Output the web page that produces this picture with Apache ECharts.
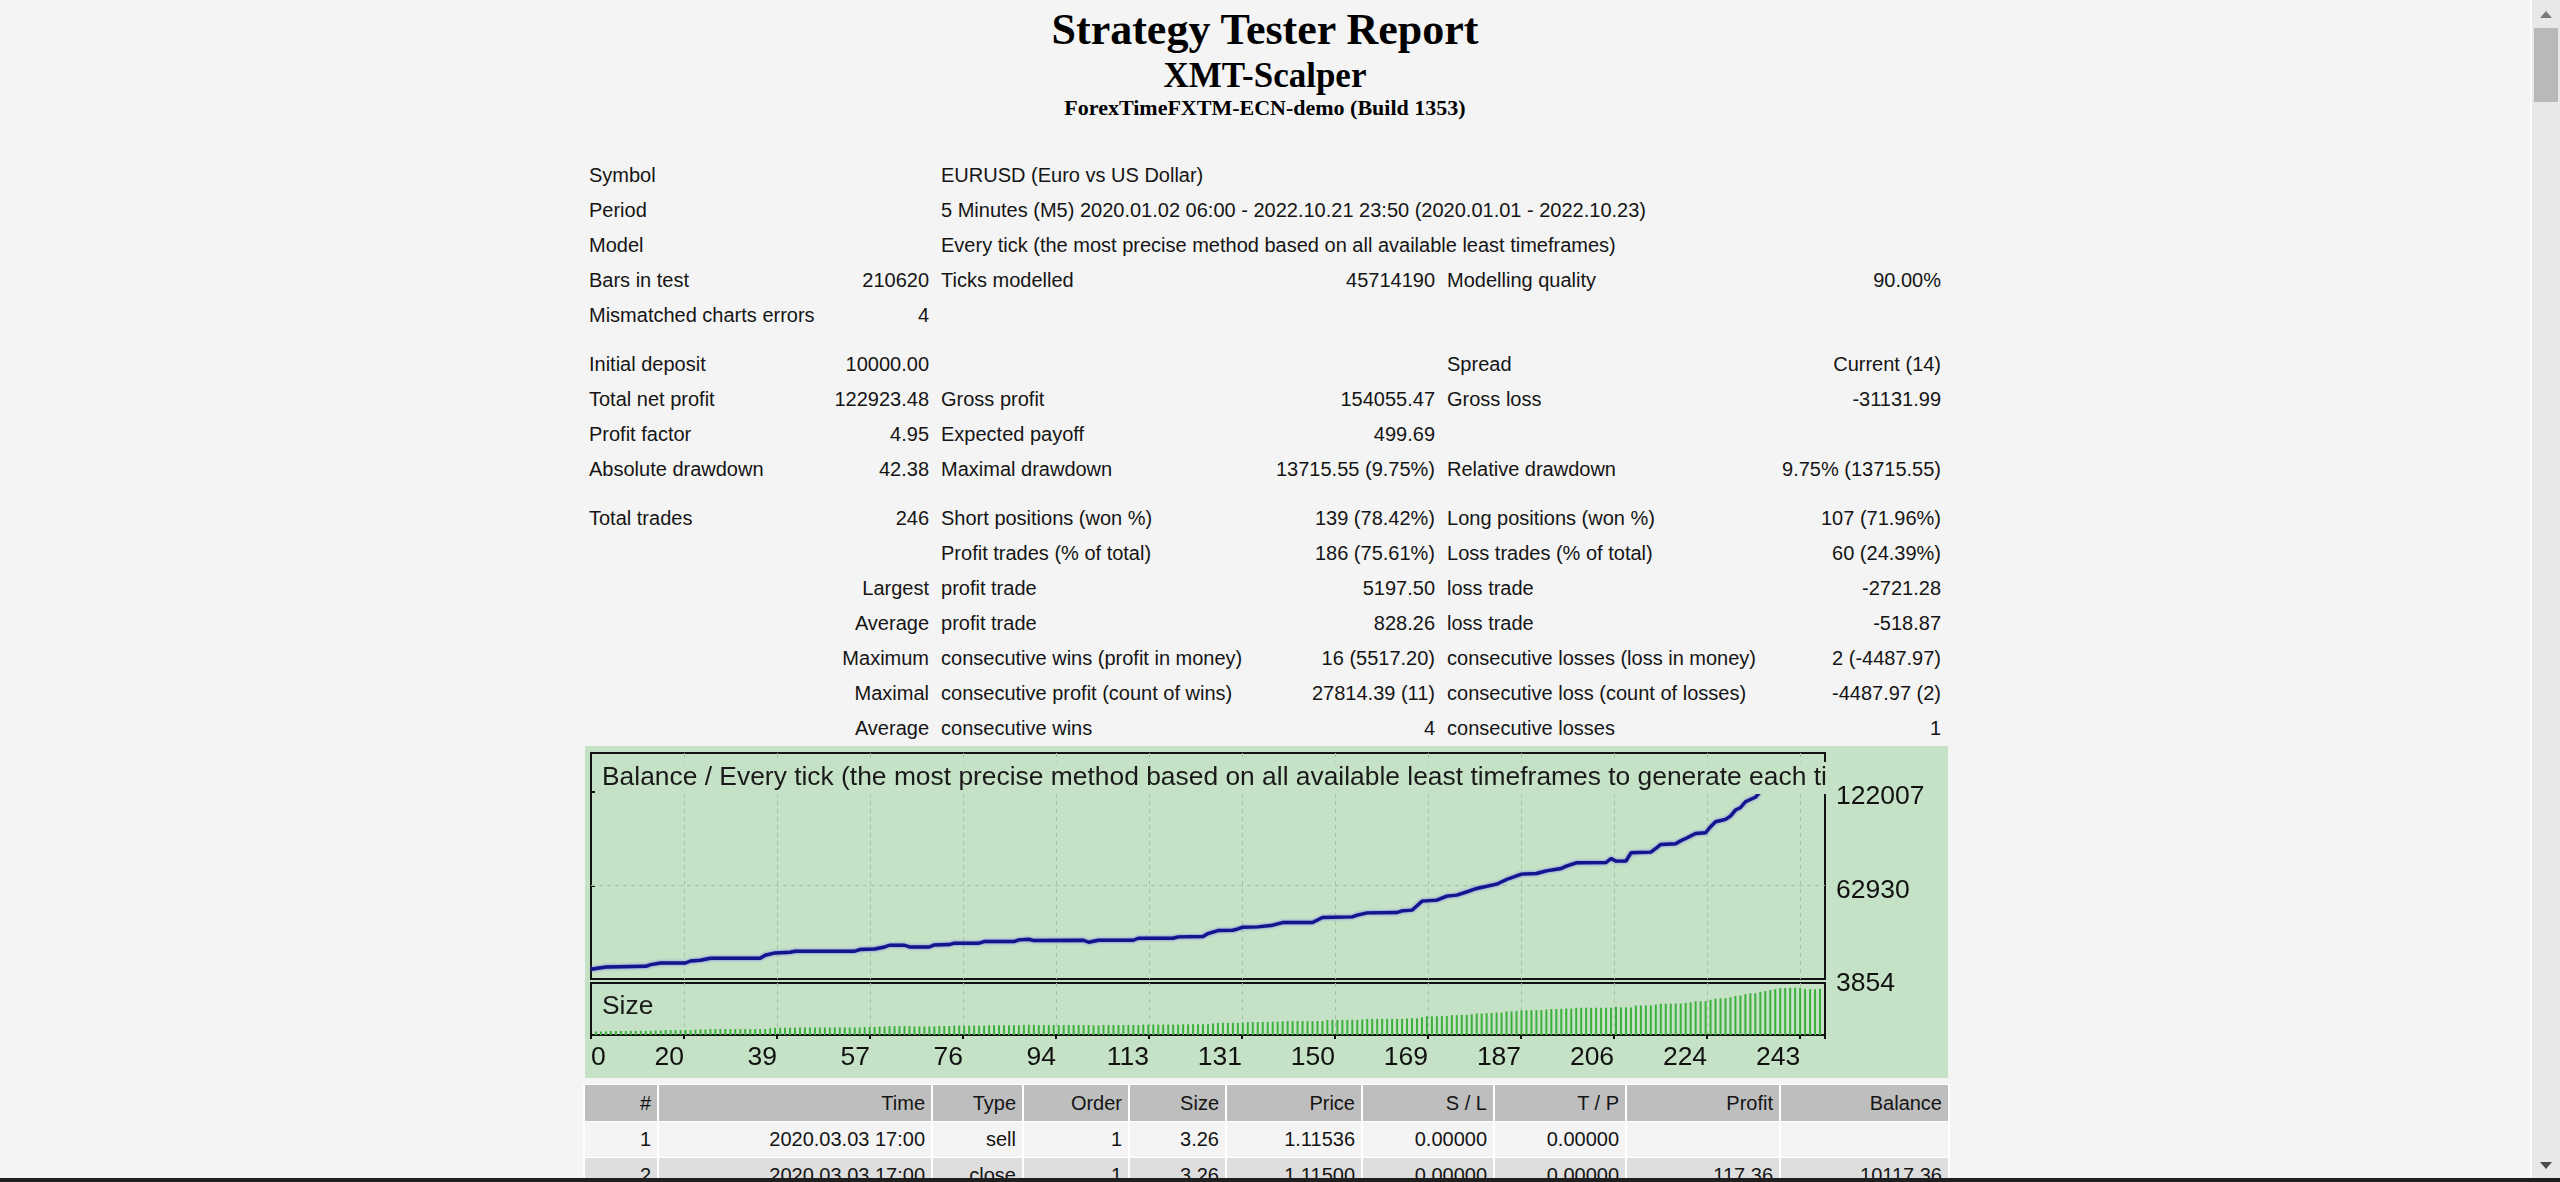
<!DOCTYPE html>
<html>
<head>
<meta charset="utf-8">
<title>Strategy Tester: XMT-Scalper</title>
<script src="https://cdn.jsdelivr.net/npm/echarts@6.0.0/dist/echarts.min.js"></script>
<style>
  html, body { margin:0; padding:0; width:2560px; height:1182px; overflow:hidden; background:#f4f4f4; }
  body { position:relative; font-family:"Liberation Sans", Arial, sans-serif; color:#151515; }
  .hd { position:absolute; left:0; width:2530px; text-align:center; font-family:"Liberation Serif", "Times New Roman", serif; font-weight:bold; color:#000; white-space:nowrap; }
  #stats { position:absolute; left:583px; top:158px; width:1364px; border-collapse:collapse; table-layout:fixed; font-size:20px; }
  #stats td { height:35px; line-height:35px; padding:0 6px; white-space:nowrap; overflow:visible; }
  #stats tr.gap td { height:14px; line-height:14px; }
  #stats td.r { text-align:right; }
  #chart { position:absolute; left:585px; top:746px; width:1363px; height:332px; }
  #deals { position:absolute; left:583px; top:1084px; border-collapse:separate; border-spacing:2px 1px; background:#fff; table-layout:fixed; font-size:20px; }
  #deals td { height:35px; line-height:35px; padding:0 6px; text-align:right; white-space:nowrap; }
  #deals tr.head td { background:#bebebe; height:34px; line-height:36px; }
  #deals tr.odd td { background:#f4f4f4; }
  #deals tr.even td { background:#dedede; }
  #sbar { position:fixed; left:2530px; top:0; width:30px; height:1182px; background:#e8e8e8; border-left:2px solid #fbfbfb; box-sizing:border-box; }
  #thumb { position:absolute; left:2px; top:28px; width:24px; height:74px; background:#b9b9b9; }
  .arr { position:absolute; left:8px; width:0; height:0; border-left:6px solid transparent; border-right:6px solid transparent; }
  #up { top:11px; border-bottom:7px solid #7a7a7a; }
  #down { top:1162px; border-top:7px solid #4a4a4a; }
  #edge { position:fixed; left:0; top:1178px; width:2560px; height:4px; background:#1e1e1e; }
</style>
</head>
<body>

<div class="hd" style="top:8px;font-size:44px;line-height:44px;">Strategy Tester Report</div>
<div class="hd" style="top:58px;font-size:35px;line-height:35px;">XMT-Scalper</div>
<div class="hd" style="top:97px;font-size:22px;line-height:22px;">ForexTimeFXTM-ECN-demo (Build 1353)</div>

<table id="stats">
  <colgroup><col style="width:242px"><col style="width:110px"><col style="width:325px"><col style="width:181px"><col style="width:325px"><col style="width:181px"></colgroup>
  <tr><td colspan="2">Symbol</td><td colspan="4">EURUSD (Euro vs US Dollar)</td></tr>
  <tr><td colspan="2">Period</td><td colspan="4">5 Minutes (M5) 2020.01.02 06:00 - 2022.10.21 23:50 (2020.01.01 - 2022.10.23)</td></tr>
  <tr><td colspan="2">Model</td><td colspan="4">Every tick (the most precise method based on all available least timeframes)</td></tr>
  <tr><td>Bars in test</td><td class="r">210620</td><td>Ticks modelled</td><td class="r">45714190</td><td>Modelling quality</td><td class="r">90.00%</td></tr>
  <tr><td>Mismatched charts errors</td><td class="r">4</td><td colspan="4"></td></tr>
  <tr class="gap"><td colspan="6"></td></tr>
  <tr><td>Initial deposit</td><td class="r">10000.00</td><td></td><td></td><td>Spread</td><td class="r">Current (14)</td></tr>
  <tr><td>Total net profit</td><td class="r">122923.48</td><td>Gross profit</td><td class="r">154055.47</td><td>Gross loss</td><td class="r">-31131.99</td></tr>
  <tr><td>Profit factor</td><td class="r">4.95</td><td>Expected payoff</td><td class="r">499.69</td><td></td><td></td></tr>
  <tr><td>Absolute drawdown</td><td class="r">42.38</td><td>Maximal drawdown</td><td class="r">13715.55 (9.75%)</td><td>Relative drawdown</td><td class="r">9.75% (13715.55)</td></tr>
  <tr class="gap"><td colspan="6"></td></tr>
  <tr><td>Total trades</td><td class="r">246</td><td>Short positions (won %)</td><td class="r">139 (78.42%)</td><td>Long positions (won %)</td><td class="r">107 (71.96%)</td></tr>
  <tr><td colspan="2" class="r"></td><td>Profit trades (% of total)</td><td class="r">186 (75.61%)</td><td>Loss trades (% of total)</td><td class="r">60 (24.39%)</td></tr>
  <tr><td colspan="2" class="r">Largest</td><td>profit trade</td><td class="r">5197.50</td><td>loss trade</td><td class="r">-2721.28</td></tr>
  <tr><td colspan="2" class="r">Average</td><td>profit trade</td><td class="r">828.26</td><td>loss trade</td><td class="r">-518.87</td></tr>
  <tr><td colspan="2" class="r">Maximum</td><td>consecutive wins (profit in money)</td><td class="r">16 (5517.20)</td><td>consecutive losses (loss in money)</td><td class="r">2 (-4487.97)</td></tr>
  <tr><td colspan="2" class="r">Maximal</td><td>consecutive profit (count of wins)</td><td class="r">27814.39 (11)</td><td>consecutive loss (count of losses)</td><td class="r">-4487.97 (2)</td></tr>
  <tr><td colspan="2" class="r">Average</td><td>consecutive wins</td><td class="r">4</td><td>consecutive losses</td><td class="r">1</td></tr>
</table>

<div id="chart"></div>

<table id="deals">
  <colgroup><col style="width:72px"><col style="width:272px"><col style="width:89px"><col style="width:104px"><col style="width:95px"><col style="width:134px"><col style="width:130px"><col style="width:130px"><col style="width:152px"><col style="width:167px"></colgroup>
  <tr class="head"><td>#</td><td>Time</td><td>Type</td><td>Order</td><td>Size</td><td>Price</td><td>S / L</td><td>T / P</td><td>Profit</td><td>Balance</td></tr>
  <tr class="odd"><td>1</td><td>2020.03.03 17:00</td><td>sell</td><td>1</td><td>3.26</td><td>1.11536</td><td>0.00000</td><td>0.00000</td><td></td><td></td></tr>
  <tr class="even"><td>2</td><td>2020.03.03 17:00</td><td>close</td><td>1</td><td>3.26</td><td>1.11500</td><td>0.00000</td><td>0.00000</td><td>117.36</td><td>10117.36</td></tr>
</table>

<div id="sbar"><div id="thumb"></div><div class="arr" id="up"></div><div class="arr" id="down"></div></div>
<div id="edge"></div>

<script>
// 余额曲线: 交易序号 / 余额 (从图上读出的拐点)
var balanceTrade = [0, 3, 11, 12, 14, 19, 20, 22, 24, 34, 35, 37, 40, 41, 53, 54, 57, 59, 60, 63,
  64, 68, 69, 72, 73, 78, 79, 85, 86, 88, 89, 99, 100, 102, 109, 110, 117, 118, 123, 124,
  126, 129, 130, 131, 134, 137, 139, 145, 147, 153, 154, 156, 162, 163, 165, 167, 170, 172, 174, 176,
  178, 182, 184, 187, 190, 192, 195, 196, 198, 204, 205, 206, 208, 209, 213, 214, 215, 218, 219, 220,
  222, 224, 225, 226, 228, 229, 230, 231, 232, 234, 235];
var balanceValue = [10000, 11430, 11870, 12940, 13950, 13950, 15220, 15660, 16920, 16920, 18810, 20270, 20710, 21340, 21340, 22410, 22790, 24050, 25130, 25130,
  24050, 24050, 25320, 25570, 26410, 26410, 27460, 27460, 28510, 28910, 28090, 28280, 27020, 28280, 28280, 29540, 29540, 30400, 30620, 32510,
  34400, 34590, 35430, 36490, 36700, 37750, 39430, 39430, 42590, 43010, 44060, 45540, 45770, 46820, 47240, 52920, 53550, 56080, 56710, 58810,
  60920, 63630, 66580, 69940, 70360, 72050, 73520, 74990, 77100, 77310, 79830, 78150, 78150, 83410, 83830, 86140, 88670, 89090, 90980, 92460,
  95610, 96030, 99820, 102980, 104450, 106550, 110340, 111810, 115600, 118380, 122007];

// 每笔交易手数 (第1笔起)
var sizeLots = [
  3.26, 3.26, 3.26, 3.73, 3.73, 3.73, 3.73, 3.80, 3.80, 3.87, 3.87, 3.87, 4.22, 4.22, 4.55, 4.55, 4.55, 4.55, 4.55, 4.55,
  4.96, 5.10, 5.10, 5.51, 5.51, 5.51, 5.51, 5.51, 5.51, 5.51, 5.51, 5.51, 5.51, 5.51, 5.51, 6.13, 6.60, 6.75, 6.75, 6.75,
  6.75, 6.96, 6.96, 6.96, 6.96, 6.96, 6.96, 6.96, 6.96, 6.96, 6.96, 6.96, 6.96, 6.96, 7.30, 7.40, 7.40, 7.84, 7.84, 8.19,
  8.19, 8.19, 8.19, 8.19, 7.84, 7.84, 7.84, 7.84, 7.84, 8.25, 8.30, 8.33, 8.61, 8.61, 8.61, 8.61, 8.61, 8.61, 8.61, 8.95,
  8.95, 8.95, 8.95, 8.95, 8.95, 8.95, 9.29, 9.42, 9.42, 9.16, 9.16, 9.16, 9.20, 9.20, 9.20, 9.22, 9.22, 9.22, 9.22, 9.22,
  8.81, 8.81, 9.22, 9.22, 9.22, 9.22, 9.22, 9.22, 9.22, 9.22, 9.63, 9.63, 9.63, 9.63, 9.63, 9.63, 9.63, 9.63, 9.91, 9.91,
  9.95, 9.95, 9.98, 9.98, 10.60, 11.21, 11.21, 11.25, 11.27, 11.27, 11.55, 11.90, 11.93, 11.96, 11.96, 12.07, 12.19, 12.31, 12.58, 12.85,
  12.85, 12.85, 12.85, 12.85, 12.85, 12.85, 12.85, 13.88, 13.88, 13.92, 13.95, 13.98, 14.02, 14.02, 14.36, 14.84, 14.84, 14.86, 14.88, 14.90,
  14.92, 14.92, 14.92, 15.26, 15.40, 15.40, 16.34, 17.24, 17.30, 17.36, 17.46, 17.46, 18.28, 18.38, 18.49, 18.49, 19.17, 19.86, 19.86, 20.10,
  20.40, 20.70, 20.74, 21.70, 21.70, 22.25, 22.80, 22.80, 22.87, 22.94, 23.00, 23.49, 23.97, 23.97, 24.22, 24.45, 24.45, 25.13, 25.13, 25.15,
  25.16, 25.17, 25.18, 25.20, 25.20, 26.02, 25.47, 25.47, 25.47, 27.19, 27.26, 27.30, 27.33, 28.08, 28.90, 28.90, 28.95, 29.04, 29.04, 29.66,
  30.14, 31.17, 31.17, 31.30, 32.54, 33.57, 33.80, 34.05, 34.74, 35.99, 36.45, 37.68, 38.59, 38.59, 39.78, 40.60, 41.50, 42.30, 43.20, 43.40,
  43.60, 43.60, 43.50, 42.40, 42.30, 42.20, 42.60];

// 坐标轴刻度标签
var xTickLabels = ['0', '20', '39', '57', '76', '94', '113', '131', '150', '169', '187', '206', '224', '243'];
var yTickLabels = ['3854', '62930', '122007'];

var xStep = 243 / 13;
var xMax = 248;
var yMin = 3854;
var yStep = (122007 - 3854) / 2;
var yMax = 146313;

var balanceData = balanceTrade.map(function (t, i) { return [t, balanceValue[i]]; });
var sizeData = sizeLots.map(function (v, i) { return [i + 1, v]; });

var FONT = '"Liberation Sans", Arial, sans-serif';
var BG = '#c6e2c6';
var gridLine = { show: true, showMinLine: false, showMaxLine: false, lineStyle: { color: '#a3c2a3', width: 1, type: [4, 4] } };
var frame = { show: true, borderColor: '#121212', borderWidth: 2, borderType: 'solid', backgroundColor: 'transparent', outerBoundsMode: 'none', containLabel: false };

function xLabel(v) {
    var i = Math.round(v / xStep);
    if (Math.abs(v - i * xStep) > 0.01 || i >= xTickLabels.length) return '';
    return xTickLabels[i];
}
function yLabel(v) {
    var i = Math.round((v - yMin) / yStep);
    if (Math.abs(v - (yMin + i * yStep)) > 0.5 || i >= yTickLabels.length) return '';
    return '{v|' + yTickLabels[i] + '}';
}

var option = {
    backgroundColor: BG,
    animation: false,
    title: [{
        text: 'Balance / Every tick (the most precise method based on all available least timeframes to generate each ti',
        left: 17, top: 16, padding: [3, 4, 3, 0], backgroundColor: BG, z: 20,
        textStyle: { fontFamily: FONT, fontSize: 26.4, fontWeight: 'normal', color: '#1a1a1a' }
    }, {
        text: 'Size',
        left: 17, top: 248, padding: 0,
        textStyle: { fontFamily: FONT, fontSize: 26.4, fontWeight: 'normal', color: '#1a1a1a' }
    }],
    grid: [
        Object.assign({ left: 6, top: 7, width: 1234, height: 226 }, frame),
        Object.assign({ left: 6, top: 237, width: 1234, height: 52 }, frame)
    ],
    xAxis: [{
        gridIndex: 0, type: 'value', min: 0, max: xMax, interval: xStep,
        axisLine: { show: false }, axisTick: { show: false }, axisLabel: { show: false },
        splitLine: gridLine
    }, {
        gridIndex: 1, type: 'value', min: 0, max: xMax, interval: xStep,
        axisLine: { show: true, lineStyle: { color: '#121212', width: 2 } },
        axisTick: { show: true, length: 4, lineStyle: { color: '#121212', width: 2 } },
        axisLabel: {
            show: true, formatter: xLabel, align: 'right', alignMinLabel: 'left', margin: 9,
            fontFamily: FONT, fontSize: 26.5, color: '#111'
        },
        splitLine: gridLine
    }],
    yAxis: [{
        gridIndex: 0, type: 'value', position: 'right', min: yMin, max: yMax, interval: yStep,
        axisLine: { show: true, lineStyle: { color: '#121212', width: 2 } },
        axisTick: { show: true, length: 4, lineStyle: { color: '#121212', width: 2 } },
        axisLabel: {
            show: true, formatter: yLabel, margin: 11,
            rich: { v: { fontFamily: FONT, fontSize: 26.5, color: '#111', padding: [10, 0, 0, 0] } }
        },
        splitLine: { show: false }
    }, {
        gridIndex: 1, type: 'value', min: 0, max: 48, show: false
    }],
    series: [{
        name: 'Balance', type: 'line', xAxisIndex: 0, yAxisIndex: 0,
        data: balanceData, showSymbol: false, symbol: 'none',
        lineStyle: { color: '#14148c', width: 3.4, shadowColor: 'rgba(100,100,240,0.9)', shadowBlur: 3 },
        markLine: {
            silent: true, symbol: 'none', label: { show: false },
            lineStyle: { color: '#a3c2a3', width: 1, type: [4, 4] },
            data: [{ yAxis: yMin + yStep }]
        },
        z: 5
    }, {
        name: 'Size', type: 'bar', xAxisIndex: 1, yAxisIndex: 1,
        data: sizeData, barWidth: 2,
        itemStyle: { color: '#3cb03c' }
    }]
};

var myChart = echarts.init(document.getElementById('chart'));
myChart.setOption(option);
</script>
</body>
</html>
